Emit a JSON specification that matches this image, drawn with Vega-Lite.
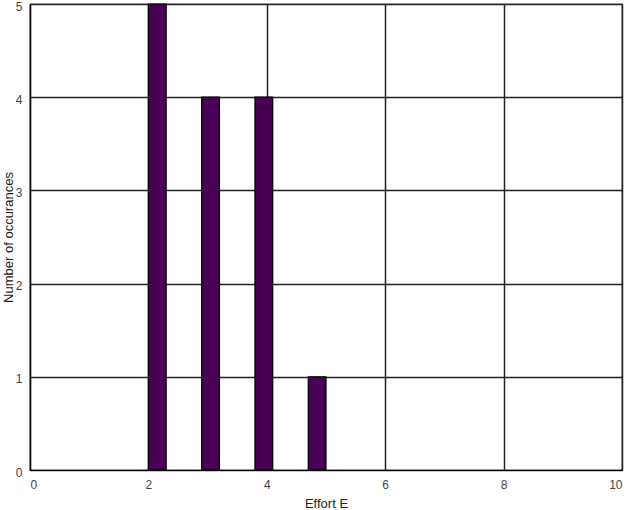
{
  "$schema": "https://vega.github.io/schema/vega-lite/v6.json",
  "autosize": "none",
  "padding": {"left": 30, "top": 4, "right": 8, "bottom": 40},
  "width": 592,
  "height": 466,
  "data": {
    "values": [
      {"start": 2.0, "end": 2.3, "count": 5},
      {"start": 2.9, "end": 3.2, "count": 4},
      {"start": 3.8, "end": 4.1, "count": 4},
      {"start": 4.7, "end": 5.0, "count": 1}
    ]
  },
  "mark": {"type": "rect", "fill": "#480054", "stroke": "#000000", "strokeWidth": 1.2},
  "encoding": {
    "x": {
      "field": "start",
      "type": "quantitative",
      "scale": {"domain": [0, 10], "nice": false},
      "axis": {"values": [0, 2, 4, 6, 8, 10], "title": "Effort E", "titlePadding": 7, "labelPadding": 9}
    },
    "x2": {"field": "end"},
    "y": {
      "field": "count",
      "type": "quantitative",
      "scale": {"domain": [0, 5], "nice": false},
      "axis": {
        "values": [0, 1, 2, 3, 4, 5],
        "title": "Number of occurances",
        "titleX": -22,
        "titleBaseline": "middle",
        "labelOffset": 2,
        "labelFlush": false
      }
    },
    "y2": {"datum": 0}
  },
  "config": {
    "font": "Liberation Sans",
    "view": {"stroke": "#000000", "strokeWidth": 1.2},
    "axis": {
      "domainColor": "#000000",
      "domainWidth": 1.2,
      "gridColor": "#222222",
      "gridWidth": 1.5,
      "gridOpacity": 1,
      "ticks": false,
      "labelColor": "#444444",
      "labelFontSize": 12,
      "labelPadding": 8,
      "titleFontSize": 13,
      "titleFontWeight": "normal",
      "titleColor": "#222222"
    }
  }
}
